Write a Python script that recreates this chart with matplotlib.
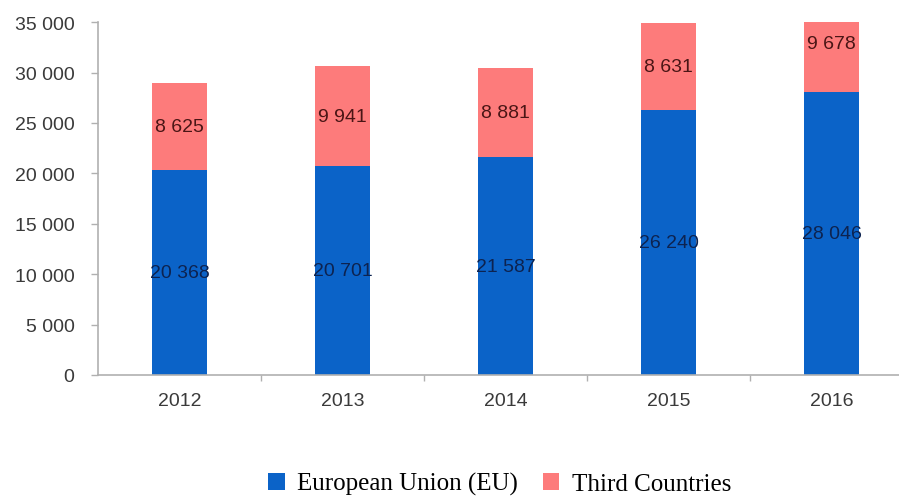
import matplotlib.pyplot as plt
import numpy as np

years = ['2012', '2013', '2014', '2015', '2016']
eu = [20368, 20701, 21587, 26240, 28046]
third = [8625, 9941, 8881, 8631, 9678]
y_ticks = [0, 5000, 10000, 15000, 20000, 25000, 30000, 35000]


def fmt(v):
    return f'{v:,}'.replace(',', ' ')


plt.rcParams['font.family'] = ['Liberation Sans', 'DejaVu Sans']

fig = plt.figure(figsize=(8.99, 5.02), dpi=100)
ax = fig.add_axes([0.109, 0.251, 0.9066, 0.703])

x = np.arange(len(years))
width = 0.34
b1 = ax.bar(x, eu, width, color='#0b63c8', label='European Union (EU)')
b2 = ax.bar(x, third, width, bottom=eu, color='#fd7b7b', label='Third Countries')

for i in range(len(years)):
    ax.text(x[i], eu[i] / 2, fmt(eu[i]), ha='center', va='center',
            fontsize=14, color='#0d2350')
    ax.text(x[i], eu[i] + third[i] / 2, fmt(third[i]), ha='center', va='center',
            fontsize=14, color='#4a1515')

ax.set_xlim(-0.5, len(years) - 0.5)
ax.set_ylim(0, 35000)
ax.set_yticks(y_ticks)
ax.set_yticklabels([fmt(v) for v in y_ticks])
ax.set_xticks(x)
ax.set_xticklabels(years)
ax.set_xticks(np.arange(0.5, len(years) - 0.5, 1), minor=True)

ax.tick_params(axis='y', length=5, width=1, color='#b0b0b0', labelsize=14,
               labelcolor='#3a3a3a', pad=12)
ax.tick_params(axis='x', which='major', length=0, labelsize=14,
               labelcolor='#3a3a3a', pad=12)
ax.tick_params(axis='x', which='minor', length=4, width=1, color='#b0b0b0',
               direction='out')

for side in ['top', 'right']:
    ax.spines[side].set_visible(False)
for side in ['left', 'bottom']:
    ax.spines[side].set_color('#b0b0b0')
    ax.spines[side].set_linewidth(1.2)

fig.legend(handles=[b1, b2], loc='center', bbox_to_anchor=(0.556, 0.034),
           ncol=2, frameon=False, handlelength=0.65, handleheight=0.65,
           handletextpad=0.5, columnspacing=1.0,
           prop={'family': 'Liberation Serif', 'size': 18})

fig.savefig('out.png', dpi=100)
